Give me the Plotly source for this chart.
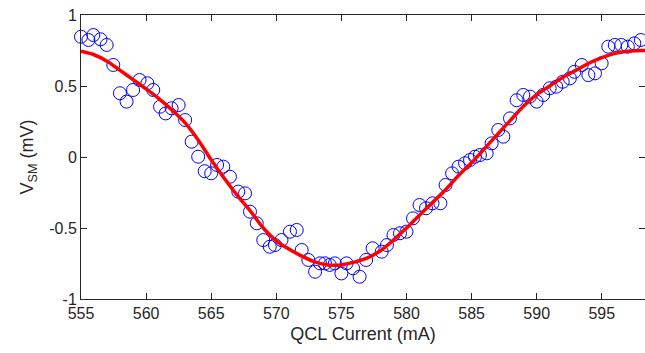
import plotly.graph_objects as go

# measured data (QCL current in mA, V_SM in mV)
current_meas = [555.0, 555.57, 555.95, 556.5, 556.97, 557.48, 557.99, 558.5, 559.0, 559.5,
                560.1, 560.55, 561.07, 561.5, 561.96, 562.5, 563.0, 563.5, 564.0, 564.5,
                565.0, 565.45, 565.93, 566.44, 567.08, 567.6, 567.98, 568.5, 569.0, 569.5,
                569.9, 570.4, 571.05, 571.57, 571.95, 572.46, 572.98, 573.36, 573.74, 574.1,
                574.5, 575.0, 575.4, 575.9, 576.4, 576.9, 577.4, 578.1, 578.5, 579.0,
                579.5, 580.0, 580.5, 581.0, 581.5, 582.0, 582.6, 583.0, 583.5, 584.0,
                584.5, 584.88, 585.26, 585.64, 586.16, 586.54, 587.05, 587.44, 587.95, 588.46,
                588.97, 589.48, 590.0, 590.5, 591.0, 591.5, 592.0, 592.55, 592.9, 593.46,
                593.97, 594.48, 594.99, 595.5, 596.0, 596.5, 597.0, 597.5, 598.0]
vsm_meas = [0.847, 0.824, 0.859, 0.829, 0.789, 0.648, 0.449, 0.39, 0.472, 0.542,
            0.519, 0.472, 0.354, 0.307, 0.343, 0.366, 0.26, 0.108, 0.002, -0.10,
            -0.115, -0.056, -0.068, -0.139, -0.244, -0.256, -0.385, -0.467, -0.585, -0.632,
            -0.62, -0.585, -0.526, -0.514, -0.655, -0.725, -0.808, -0.749, -0.749, -0.76,
            -0.749, -0.82, -0.749, -0.784, -0.843, -0.725, -0.643, -0.667, -0.62, -0.549,
            -0.537, -0.526, -0.432, -0.338, -0.361, -0.326, -0.326, -0.197, -0.115, -0.068,
            -0.044, -0.021, 0.002, 0.014, 0.026, 0.096, 0.19, 0.143, 0.272, 0.40,
            0.437, 0.425, 0.39, 0.437, 0.484, 0.495, 0.53, 0.554, 0.60, 0.648,
            0.577, 0.589, 0.66, 0.777, 0.789, 0.789, 0.777, 0.80, 0.824]

# fitted curve
current_fit = [555, 556, 557, 558, 559, 560, 561, 562, 563, 564, 565, 566, 567, 568, 569,
               570, 571, 572, 573, 574, 575, 576, 577, 578, 579, 580, 581, 582, 583, 584,
               585, 586, 587, 588, 589, 590, 591, 592, 593, 594, 595, 596, 597, 598, 598.5]
vsm_fit = [0.745, 0.72, 0.675, 0.61, 0.545, 0.48, 0.41, 0.33, 0.24, 0.12, -0.02, -0.15,
           -0.27, -0.38, -0.50, -0.59, -0.65, -0.70, -0.74, -0.76, -0.76, -0.74, -0.71,
           -0.66, -0.585, -0.50, -0.41, -0.32, -0.23, -0.13, -0.04, 0.06, 0.16, 0.26,
           0.36, 0.44, 0.50, 0.56, 0.61, 0.66, 0.70, 0.73, 0.745, 0.75, 0.75]

x_ticks = [555, 560, 565, 570, 575, 580, 585, 590, 595]
y_ticks = [-1, -0.5, 0, 0.5, 1]
y_tick_text = ["-1", "-0.5", "0", "0.5", "1"]

axis_col = "#262626"
font_family = "Liberation Sans, Arial, sans-serif"

fig = go.Figure()
fig.add_trace(go.Scatter(
    x=current_meas, y=vsm_meas, mode="markers",
    marker=dict(symbol="circle-open", size=13, color="#0000ff", line=dict(width=1)),
    cliponaxis=False, showlegend=False, hoverinfo="x+y"))
fig.add_trace(go.Scatter(
    x=current_fit, y=vsm_fit, mode="lines", yaxis="y2",
    line=dict(color="#ff0000", width=3.5, shape="spline", smoothing=1.0),
    showlegend=False))

fig.update_layout(
    width=645, height=353,
    margin=dict(l=81, r=0, t=15, b=54),
    paper_bgcolor="white", plot_bgcolor="white",
    font=dict(family=font_family, size=16, color=axis_col),
    xaxis=dict(
        range=[555, 598.32], tickvals=x_ticks, ticks="inside", ticklen=6,
        tickcolor=axis_col, tickwidth=1, showline=True, linecolor=axis_col, linewidth=1,
        mirror="ticks", showgrid=False, zeroline=False,
        tickfont=dict(size=16, color=axis_col),
        title=dict(text="QCL Current (mA)", font=dict(size=18, color=axis_col), standoff=6)),
    yaxis=dict(
        range=[-1, 1], tickvals=y_ticks, ticktext=y_tick_text, ticks="inside", ticklen=6,
        tickcolor=axis_col, tickwidth=1, showline=True, linecolor=axis_col, linewidth=1,
        mirror=False, showgrid=False, zeroline=False,
        tickfont=dict(size=16, color=axis_col),
        title=dict(text="V<sub>SM</sub> (mV)", font=dict(size=18, color=axis_col), standoff=10)),
    yaxis2=dict(
        range=[-1, 1], tickvals=y_ticks, overlaying="y", side="right", ticks="inside",
        ticklen=6, tickcolor=axis_col, showticklabels=False, showline=False,
        showgrid=False, zeroline=False),
)

fig.write_html("out.html")
